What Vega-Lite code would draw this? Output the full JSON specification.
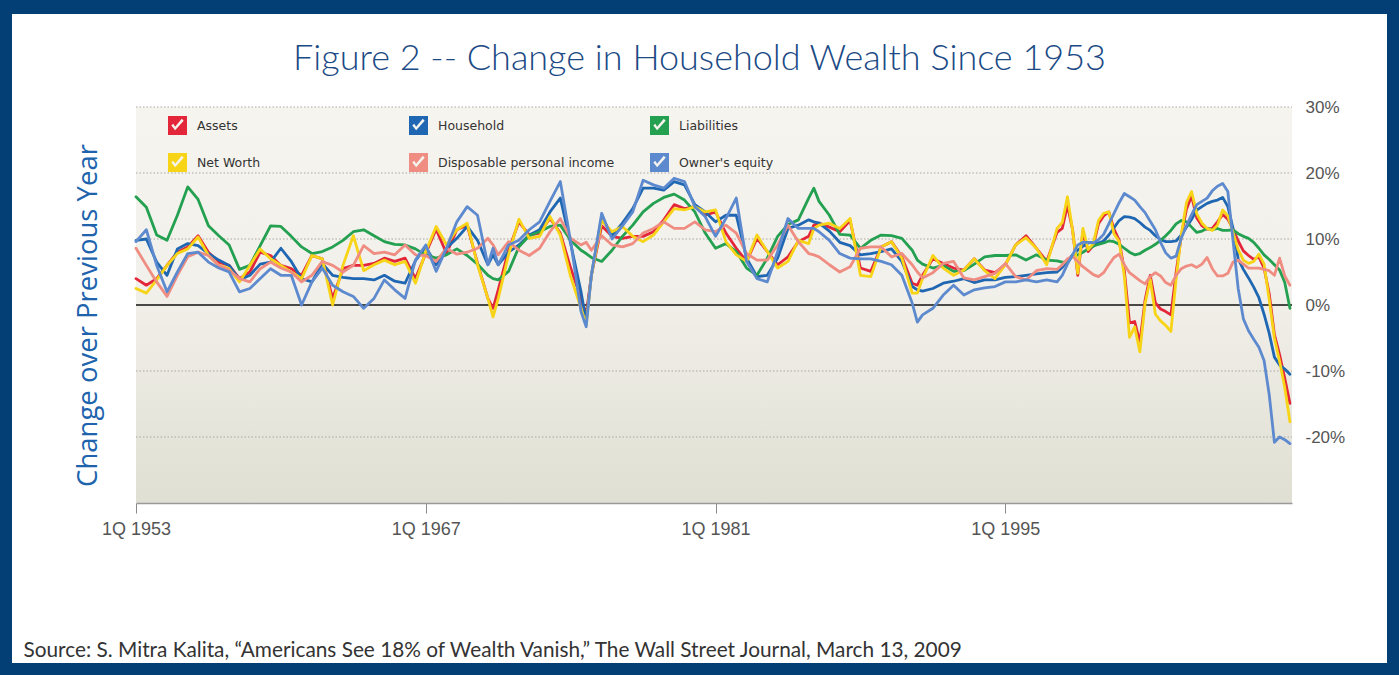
{
  "$schema": "https://vega.github.io/schema/vega-lite/v6.json",
  "width": 1375,
  "height": 649,
  "autosize": {"type": "none"},
  "padding": {"left": 12, "top": 14, "right": 12, "bottom": 12},
  "background": "#033f75",
  "config": {"view": {"fill": "white", "stroke": null}},
  "title": {
    "text": "Figure 2 -- Change in Household Wealth Since 1953",
    "anchor": "middle",
    "frame": "group",
    "orient": "top",
    "offset": -64,
    "font": "Lato",
    "fontSize": 36,
    "fontWeight": 300,
    "color": "#1b4a85"
  },
  "datasets": {
    "w": [
      {"t":1953.0,"A":4.0,"H":9.8,"L":16.4,"N":2.5,"D":8.6,"O":9.6},
      {"t":1953.5,"A":3.0,"H":10.0,"L":14.8,"N":1.8,"D":6.0,"O":11.4},
      {"t":1954.0,"A":4.0,"H":6.5,"L":10.6,"N":3.8,"D":3.5,"O":6.0},
      {"t":1954.5,"A":6.0,"H":4.5,"L":9.8,"N":6.0,"D":1.3,"O":2.0},
      {"t":1955.0,"A":8.0,"H":8.5,"L":13.6,"N":7.8,"D":4.5,"O":5.0},
      {"t":1955.5,"A":8.8,"H":9.3,"L":17.9,"N":8.5,"D":7.3,"O":7.8},
      {"t":1956.0,"A":10.5,"H":9.0,"L":16.0,"N":10.3,"D":8.0,"O":8.0},
      {"t":1956.5,"A":8.0,"H":7.8,"L":12.0,"N":7.5,"D":7.5,"O":6.5},
      {"t":1957.0,"A":6.5,"H":6.8,"L":10.5,"N":6.0,"D":6.0,"O":5.6},
      {"t":1957.5,"A":6.0,"H":6.0,"L":9.1,"N":5.5,"D":5.3,"O":5.0},
      {"t":1958.0,"A":4.0,"H":3.8,"L":5.4,"N":3.5,"D":4.0,"O":2.0},
      {"t":1958.5,"A":5.0,"H":4.5,"L":6.0,"N":6.0,"D":3.5,"O":2.5},
      {"t":1959.0,"A":8.0,"H":6.2,"L":9.0,"N":8.5,"D":5.5,"O":4.0},
      {"t":1959.5,"A":7.5,"H":6.5,"L":12.0,"N":7.0,"D":6.5,"O":5.5},
      {"t":1960.0,"A":6.0,"H":8.6,"L":11.9,"N":6.0,"D":5.6,"O":4.5},
      {"t":1960.5,"A":5.5,"H":6.6,"L":10.4,"N":5.0,"D":5.0,"O":4.5},
      {"t":1961.0,"A":4.5,"H":4.0,"L":8.8,"N":4.0,"D":3.5,"O":0.0},
      {"t":1961.5,"A":7.5,"H":3.5,"L":7.8,"N":7.5,"D":4.5,"O":3.5},
      {"t":1962.0,"A":7.0,"H":6.3,"L":8.1,"N":7.0,"D":6.6,"O":5.6},
      {"t":1962.5,"A":1.0,"H":4.5,"L":8.8,"N":0.0,"D":6.0,"O":3.0},
      {"t":1963.0,"A":5.5,"H":4.2,"L":9.8,"N":6.0,"D":5.0,"O":2.0},
      {"t":1963.5,"A":6.0,"H":4.0,"L":11.1,"N":10.5,"D":6.0,"O":1.3},
      {"t":1964.0,"A":6.0,"H":4.0,"L":11.4,"N":5.2,"D":9.0,"O":-0.5},
      {"t":1964.5,"A":6.3,"H":3.8,"L":10.5,"N":6.1,"D":7.8,"O":1.0},
      {"t":1965.0,"A":7.1,"H":4.5,"L":9.6,"N":6.8,"D":8.0,"O":3.8},
      {"t":1965.5,"A":6.6,"H":3.6,"L":9.2,"N":6.1,"D":7.6,"O":2.3},
      {"t":1966.0,"A":7.1,"H":3.3,"L":9.1,"N":6.6,"D":9.1,"O":1.0},
      {"t":1966.5,"A":4.0,"H":6.7,"L":8.5,"N":3.3,"D":7.6,"O":6.8},
      {"t":1967.0,"A":7.8,"H":8.8,"L":7.6,"N":8.1,"D":7.5,"O":9.1},
      {"t":1967.5,"A":11.5,"H":6.1,"L":7.1,"N":11.9,"D":6.6,"O":5.1},
      {"t":1968.0,"A":7.8,"H":8.6,"L":7.6,"N":9.1,"D":8.6,"O":8.6},
      {"t":1968.5,"A":11.4,"H":10.1,"L":8.5,"N":11.4,"D":7.7,"O":12.6},
      {"t":1969.0,"A":12.1,"H":11.9,"L":7.5,"N":12.4,"D":8.0,"O":14.9},
      {"t":1969.5,"A":6.3,"H":9.8,"L":6.2,"N":6.1,"D":8.6,"O":13.6},
      {"t":1970.0,"A":1.0,"H":6.1,"L":4.5,"N":1.0,"D":10.1,"O":6.1},
      {"t":1970.25,"A":-0.5,"H":7.6,"L":4.0,"N":-1.8,"D":9.1,"O":8.6},
      {"t":1970.5,"A":2.3,"H":6.1,"L":3.8,"N":1.0,"D":7.6,"O":6.1},
      {"t":1971.0,"A":8.3,"H":8.0,"L":5.1,"N":7.6,"D":9.6,"O":9.1},
      {"t":1971.5,"A":12.6,"H":9.1,"L":8.8,"N":13.0,"D":8.3,"O":9.8},
      {"t":1972.0,"A":10.6,"H":10.6,"L":10.5,"N":10.1,"D":7.5,"O":11.4},
      {"t":1972.5,"A":10.9,"H":11.4,"L":11.1,"N":10.4,"D":8.6,"O":12.6},
      {"t":1973.0,"A":13.1,"H":14.1,"L":11.9,"N":13.4,"D":11.1,"O":15.7},
      {"t":1973.5,"A":10.9,"H":16.2,"L":12.1,"N":10.6,"D":13.1,"O":18.7},
      {"t":1974.0,"A":5.6,"H":9.3,"L":9.8,"N":4.3,"D":10.1,"O":9.6},
      {"t":1974.5,"A":1.0,"H":2.0,"L":8.3,"N":-0.5,"D":9.1,"O":-1.0},
      {"t":1974.75,"A":-1.5,"H":-2.5,"L":7.8,"N":-3.0,"D":9.5,"O":-3.3},
      {"t":1975.0,"A":4.5,"H":4.5,"L":7.2,"N":4.5,"D":8.3,"O":4.5},
      {"t":1975.5,"A":12.0,"H":13.3,"L":6.6,"N":12.8,"D":10.5,"O":13.9},
      {"t":1976.0,"A":10.4,"H":10.5,"L":8.3,"N":11.1,"D":9.1,"O":10.0},
      {"t":1976.5,"A":10.1,"H":12.4,"L":10.4,"N":11.9,"D":8.8,"O":12.0},
      {"t":1977.0,"A":10.4,"H":14.6,"L":12.1,"N":10.4,"D":9.3,"O":14.1},
      {"t":1977.5,"A":10.4,"H":17.7,"L":14.1,"N":9.6,"D":10.9,"O":18.9},
      {"t":1978.0,"A":11.1,"H":17.7,"L":15.4,"N":10.6,"D":11.6,"O":18.2},
      {"t":1978.5,"A":12.9,"H":17.4,"L":16.3,"N":12.6,"D":12.6,"O":17.7},
      {"t":1979.0,"A":15.2,"H":18.7,"L":16.8,"N":14.6,"D":11.6,"O":19.2},
      {"t":1979.5,"A":14.6,"H":18.2,"L":15.9,"N":14.4,"D":11.6,"O":18.7},
      {"t":1980.0,"A":14.9,"H":15.2,"L":14.1,"N":14.9,"D":12.6,"O":14.9},
      {"t":1980.5,"A":13.6,"H":14.1,"L":10.9,"N":14.1,"D":11.4,"O":13.4},
      {"t":1981.0,"A":14.1,"H":12.6,"L":8.6,"N":14.4,"D":11.1,"O":10.4},
      {"t":1981.5,"A":10.9,"H":13.6,"L":9.3,"N":9.6,"D":12.1,"O":13.1},
      {"t":1982.0,"A":8.6,"H":13.6,"L":8.1,"N":7.6,"D":10.9,"O":16.2},
      {"t":1982.5,"A":6.6,"H":7.1,"L":5.6,"N":6.6,"D":7.8,"O":6.6},
      {"t":1983.0,"A":10.1,"H":4.3,"L":4.5,"N":10.6,"D":6.8,"O":4.0},
      {"t":1983.5,"A":8.1,"H":4.5,"L":7.1,"N":8.1,"D":6.8,"O":3.5},
      {"t":1984.0,"A":6.1,"H":7.1,"L":10.4,"N":5.6,"D":9.1,"O":8.1},
      {"t":1984.5,"A":7.3,"H":11.6,"L":12.2,"N":6.6,"D":12.1,"O":13.1},
      {"t":1985.0,"A":9.6,"H":12.1,"L":12.9,"N":9.8,"D":9.6,"O":11.6},
      {"t":1985.5,"A":10.4,"H":12.9,"L":16.2,"N":9.3,"D":7.8,"O":11.6},
      {"t":1985.75,"A":12.1,"H":12.6,"L":17.7,"N":11.6,"D":7.6,"O":11.6},
      {"t":1986.0,"A":12.4,"H":12.4,"L":15.7,"N":12.1,"D":7.3,"O":11.1},
      {"t":1986.5,"A":11.8,"H":11.2,"L":13.6,"N":12.4,"D":6.1,"O":9.8},
      {"t":1987.0,"A":11.1,"H":9.5,"L":10.7,"N":11.6,"D":5.0,"O":7.8},
      {"t":1987.5,"A":12.8,"H":9.0,"L":10.6,"N":13.1,"D":5.8,"O":7.1},
      {"t":1988.0,"A":5.6,"H":7.6,"L":8.6,"N":4.5,"D":8.6,"O":7.0},
      {"t":1988.5,"A":5.1,"H":7.8,"L":9.8,"N":4.3,"D":8.8,"O":7.0},
      {"t":1989.0,"A":8.8,"H":8.1,"L":10.6,"N":8.8,"D":8.8,"O":6.6},
      {"t":1989.5,"A":9.6,"H":8.5,"L":10.5,"N":9.6,"D":7.3,"O":6.1},
      {"t":1990.0,"A":7.3,"H":6.6,"L":10.1,"N":7.1,"D":7.8,"O":4.5},
      {"t":1990.5,"A":3.3,"H":2.8,"L":8.3,"N":1.8,"D":6.1,"O":0.3},
      {"t":1990.75,"A":3.0,"H":2.3,"L":6.8,"N":1.8,"D":5.0,"O":-2.6},
      {"t":1991.0,"A":4.5,"H":2.1,"L":6.2,"N":4.0,"D":4.1,"O":-1.5},
      {"t":1991.5,"A":7.0,"H":2.5,"L":5.6,"N":7.5,"D":4.9,"O":-0.5},
      {"t":1992.0,"A":6.3,"H":3.3,"L":6.0,"N":5.6,"D":6.3,"O":1.5},
      {"t":1992.5,"A":5.6,"H":3.6,"L":5.1,"N":4.5,"D":6.6,"O":3.0},
      {"t":1993.0,"A":5.3,"H":4.0,"L":5.2,"N":5.3,"D":4.1,"O":1.5},
      {"t":1993.5,"A":7.0,"H":3.4,"L":6.2,"N":7.0,"D":3.8,"O":2.3},
      {"t":1994.0,"A":5.3,"H":3.8,"L":7.3,"N":5.2,"D":4.3,"O":2.6},
      {"t":1994.5,"A":4.9,"H":3.8,"L":7.5,"N":4.0,"D":4.8,"O":2.8},
      {"t":1995.0,"A":6.1,"H":4.2,"L":7.5,"N":6.1,"D":6.3,"O":3.5},
      {"t":1995.5,"A":9.1,"H":4.3,"L":7.6,"N":9.1,"D":4.3,"O":3.5},
      {"t":1996.0,"A":10.5,"H":4.5,"L":6.8,"N":10.2,"D":3.8,"O":3.8},
      {"t":1996.5,"A":8.6,"H":4.7,"L":7.6,"N":8.6,"D":5.2,"O":3.5},
      {"t":1997.0,"A":6.6,"H":4.9,"L":6.8,"N":6.1,"D":5.5,"O":3.8},
      {"t":1997.5,"A":11.0,"H":5.0,"L":6.7,"N":11.6,"D":5.4,"O":3.5},
      {"t":1997.75,"A":11.6,"H":5.7,"L":6.5,"N":12.5,"D":6.1,"O":4.5},
      {"t":1998.0,"A":15.1,"H":6.7,"L":6.5,"N":16.4,"D":7.0,"O":6.2},
      {"t":1998.25,"A":11.4,"H":7.6,"L":7.4,"N":11.3,"D":7.4,"O":7.6},
      {"t":1998.5,"A":4.5,"H":8.3,"L":7.6,"N":4.8,"D":6.6,"O":9.1},
      {"t":1998.75,"A":11.1,"H":8.9,"L":8.0,"N":11.6,"D":5.8,"O":9.5},
      {"t":1999.0,"A":8.1,"H":9.4,"L":8.5,"N":8.4,"D":5.2,"O":9.5},
      {"t":1999.25,"A":9.0,"H":9.5,"L":8.9,"N":9.3,"D":4.6,"O":9.4},
      {"t":1999.5,"A":12.3,"H":9.4,"L":9.2,"N":12.8,"D":4.3,"O":9.9},
      {"t":1999.75,"A":13.5,"H":9.7,"L":9.4,"N":13.9,"D":4.9,"O":10.7},
      {"t":2000.0,"A":14.1,"H":10.6,"L":9.7,"N":14.1,"D":6.1,"O":12.3},
      {"t":2000.25,"A":11.5,"H":11.7,"L":9.6,"N":10.8,"D":7.2,"O":13.9},
      {"t":2000.5,"A":9.8,"H":12.8,"L":9.2,"N":9.6,"D":7.7,"O":15.5},
      {"t":2000.75,"A":5.2,"H":13.4,"L":8.6,"N":4.4,"D":6.1,"O":16.9},
      {"t":2001.0,"A":-2.7,"H":13.3,"L":8.0,"N":-4.9,"D":4.9,"O":16.4},
      {"t":2001.25,"A":-2.5,"H":13.1,"L":7.6,"N":-3.3,"D":4.3,"O":15.9},
      {"t":2001.5,"A":-5.7,"H":12.5,"L":7.8,"N":-7.1,"D":3.7,"O":14.9},
      {"t":2001.75,"A":0.7,"H":11.8,"L":8.3,"N":0.2,"D":3.2,"O":14.0},
      {"t":2002.0,"A":4.5,"H":11.3,"L":8.7,"N":3.9,"D":4.3,"O":12.7},
      {"t":2002.25,"A":0.3,"H":10.5,"L":9.2,"N":-1.4,"D":4.9,"O":11.4},
      {"t":2002.5,"A":-0.6,"H":9.9,"L":9.8,"N":-2.4,"D":4.4,"O":9.5},
      {"t":2002.75,"A":-1.0,"H":9.6,"L":10.5,"N":-3.1,"D":3.4,"O":7.9},
      {"t":2003.0,"A":-1.5,"H":9.6,"L":11.3,"N":-4.0,"D":3.0,"O":7.1},
      {"t":2003.25,"A":4.9,"H":9.7,"L":12.3,"N":3.9,"D":4.5,"O":7.4},
      {"t":2003.5,"A":10.4,"H":10.6,"L":12.8,"N":10.6,"D":5.5,"O":10.1},
      {"t":2003.75,"A":14.5,"H":11.8,"L":12.6,"N":15.5,"D":5.9,"O":12.0},
      {"t":2004.0,"A":16.5,"H":13.0,"L":11.8,"N":17.2,"D":6.1,"O":13.7},
      {"t":2004.25,"A":13.2,"H":14.4,"L":11.0,"N":13.8,"D":5.7,"O":15.2},
      {"t":2004.5,"A":12.0,"H":14.9,"L":11.2,"N":12.4,"D":6.2,"O":15.7},
      {"t":2004.75,"A":11.5,"H":15.4,"L":11.6,"N":11.6,"D":7.2,"O":16.2},
      {"t":2005.0,"A":11.6,"H":15.7,"L":11.4,"N":11.3,"D":5.5,"O":17.3},
      {"t":2005.25,"A":12.6,"H":15.9,"L":11.6,"N":12.1,"D":4.4,"O":18.0},
      {"t":2005.5,"A":13.7,"H":16.3,"L":11.3,"N":14.4,"D":4.4,"O":18.4},
      {"t":2005.75,"A":13.0,"H":14.9,"L":11.3,"N":13.5,"D":4.8,"O":17.2},
      {"t":2006.0,"A":11.5,"H":11.6,"L":11.4,"N":11.0,"D":6.5,"O":9.8},
      {"t":2006.25,"A":9.7,"H":7.0,"L":10.8,"N":8.4,"D":6.8,"O":2.5},
      {"t":2006.5,"A":8.2,"H":5.4,"L":10.4,"N":6.8,"D":6.2,"O":-2.1},
      {"t":2006.75,"A":7.5,"H":4.1,"L":10.1,"N":6.3,"D":5.6,"O":-3.9},
      {"t":2007.0,"A":6.9,"H":2.7,"L":9.5,"N":6.6,"D":5.6,"O":-5.2},
      {"t":2007.25,"A":7.3,"H":1.1,"L":8.6,"N":7.7,"D":5.6,"O":-6.4},
      {"t":2007.5,"A":5.6,"H":-1.4,"L":7.6,"N":6.2,"D":5.4,"O":-8.4},
      {"t":2007.75,"A":1.7,"H":-4.3,"L":6.9,"N":0.8,"D":5.2,"O":-13.6},
      {"t":2008.0,"A":-4.5,"H":-7.9,"L":6.1,"N":-5.0,"D":4.5,"O":-20.8},
      {"t":2008.25,"A":-7.5,"H":-9.1,"L":5.3,"N":-8.5,"D":7.1,"O":-20.0},
      {"t":2008.5,"A":-11.1,"H":-9.7,"L":3.4,"N":-12.5,"D":4.4,"O":-20.4},
      {"t":2008.75,"A":-14.9,"H":-10.5,"L":-0.5,"N":-17.7,"D":3.0,"O":-21.0}
    ],
    "grid": [{"g":30},{"g":20},{"g":10},{"g":-10},{"g":-20}]
  },
  "layer": [
    {
      "data": {"values": [{}]},
      "mark": {
        "type": "rect",
        "fill": {
          "gradient": "linear", "x1": 0, "y1": 0, "x2": 0, "y2": 1,
          "stops": [
            {"offset": 0, "color": "#f6f4ef"},
            {"offset": 0.45, "color": "#f2f0ea"},
            {"offset": 1, "color": "#e0dfd3"}
          ]
        }
      },
      "encoding": {
        "x": {"datum": 1953, "type": "quantitative"},
        "x2": {"datum": 2008.85},
        "y": {"datum": -30, "type": "quantitative"},
        "y2": {"datum": 30}
      }
    },
    {
      "data": {"name": "grid"},
      "mark": {"type": "rule", "color": "#a9a79f", "strokeWidth": 1, "strokeDash": [1.5, 2]},
      "encoding": {
        "y": {"field": "g", "type": "quantitative"},
        "x": {"datum": 1953, "type": "quantitative"},
        "x2": {"datum": 2008.85}
      }
    },
    {
      "data": {"values": [{}]},
      "mark": {"type": "rule", "color": "#111111", "strokeWidth": 1.5},
      "encoding": {
        "y": {"datum": 0, "type": "quantitative"},
        "x": {"datum": 1953, "type": "quantitative"},
        "x2": {"datum": 2008.85}
      }
    },
    {
      "data": {"name": "w"},
      "transform": [{"fold": ["A", "H", "L", "N", "D", "O"], "as": ["k", "v"]}],
      "mark": {"type": "line", "strokeWidth": 2.8, "strokeJoin": "round", "strokeCap": "round"},
      "encoding": {
        "x": {
          "field": "t",
          "type": "quantitative",
          "scale": {"domain": [1953, 2008.85], "range": [124, 1280], "nice": false, "zero": false},
          "axis": {
            "orient": "bottom",
            "offset": -160,
            "values": [1953, 1967, 1981, 1995],
            "labelExpr": "'1Q ' + datum.value",
            "labelFlush": false,
            "labelOverlap": false,
            "labelFont": "Liberation Sans",
            "labelFontSize": 18,
            "labelColor": "#555555",
            "labelPadding": 7,
            "tickSize": 10,
            "tickColor": "#8a8a8a",
            "tickWidth": 1,
            "domainColor": "#9a9a9a",
            "domainWidth": 1.5,
            "grid": false,
            "zindex": 1,
            "title": "Source: S. Mitra Kalita, \u201cAmericans See 18% of Wealth Vanish,\u201d The Wall Street Journal, March 13, 2009",
            "titleFont": "Lato",
            "titleFontSize": 20.8,
            "titleFontWeight": "normal",
            "titleColor": "#333333",
            "titleX": 11,
            "titleY": 153,
            "titleAlign": "left",
            "titleAnchor": "start",
            "titleBaseline": "alphabetic"
          }
        },
        "y": {
          "field": "v",
          "type": "quantitative",
          "scale": {"domain": [-30, 30], "range": [489, 93], "nice": false, "zero": false},
          "axis": {
            "orient": "right",
            "offset": -95,
            "values": [30, 20, 10, 0, -10, -20],
            "labelExpr": "datum.value + '%'",
            "labelFont": "Liberation Sans",
            "labelFontSize": 17,
            "labelColor": "#555555",
            "labelPadding": 13,
            "ticks": false,
            "domain": false,
            "grid": false,
            "title": "Change over Previous Year",
            "titleFont": "Open Sans",
            "titleFontSize": 27.5,
            "titleFontWeight": "normal",
            "titleColor": "#2063ad",
            "titleX": -1204,
            "titleY": 301,
            "titleAngle": -90,
            "titleAlign": "center",
            "titleBaseline": "middle"
          }
        },
        "color": {
          "field": "k",
          "type": "nominal",
          "scale": {
            "domain": ["A", "N", "H", "D", "L", "O"],
            "range": ["#e3263a", "#f7d417", "#1f67b2", "#ef8d82", "#23a050", "#5d8ace"]
          },
          "legend": {
            "orient": "none",
            "legendX": 156,
            "legendY": 102,
            "columns": 3,
            "gridAlign": "all",
            "columnPadding": 35,
            "rowPadding": 18,
            "padding": 0,
            "title": null,
            "symbolType": "M-1,-1H1V1H-1Z M-0.65,0L-0.25,0.5L0.65,-0.5L0.45,-0.7L-0.25,0.12L-0.45,-0.18Z",
            "symbolSize": 361,
            "symbolStrokeWidth": 0,
            "labelFont": "DejaVu Sans",
            "labelFontSize": 12.5,
            "labelColor": "#333333",
            "labelOffset": 10,
            "labelLimit": 400,
            "labelExpr": "{'A': 'Assets', 'H': 'Household', 'L': 'Liabilities', 'N': 'Net Worth', 'D': 'Disposable personal income', 'O': \"Owner's equity\"}[datum.label]",
            "encode": {
              "symbols": {
                "update": {
                  "fill": {"scale": "color", "field": "value"},
                  "strokeWidth": {"value": 0},
                  "opacity": {"value": 1}
                }
              }
            }
          }
        }
      }
    }
  ]
}
